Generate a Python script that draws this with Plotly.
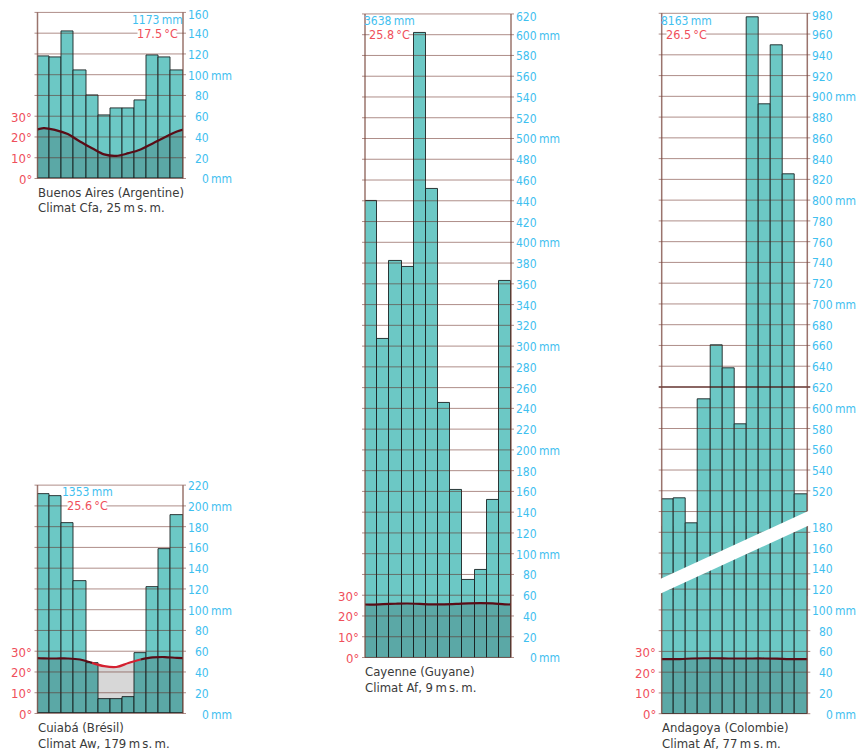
import plotly.graph_objects as go

OFF = 8                      # page body margin (px)
W, H = 860, 746              # figure reaches the right / bottom edge of the 868 x 754 page
PPM = 1.038                  # pixels per mm of precipitation (10 °C = 20 mm)

months = list(range(1, 13))

# ---------------- data ----------------
ba_precip = [118, 117, 142, 104, 80, 61, 68, 68, 75, 119, 117, 104]
ba_temp = [24.3, 23.3, 21.4, 17.8, 14.6, 11.6, 10.9, 12.2, 14.0, 16.9, 19.9, 22.6]

cu_precip = [211, 209, 183, 128, 49, 14, 14, 16, 58, 122, 158, 191]
cu_temp = [26.6, 26.5, 26.5, 26.0, 24.4, 22.8, 22.4, 24.3, 26.0, 27.0, 27.2, 26.8]

ca_precip = [440, 307, 382, 376, 602, 451, 245, 161, 75, 84, 152, 363]
ca_temp = [25.5, 25.7, 25.9, 26.0, 25.8, 25.6, 25.6, 25.8, 26.1, 26.2, 26.1, 25.6]

an_precip = [512, 513, 489, 608, 660, 638, 584, 976, 892, 949, 825, 517]
an_temp = [26.3, 26.3, 26.6, 26.7, 26.7, 26.6, 26.6, 26.6, 26.6, 26.5, 26.3, 26.3]

names = ["Buenos Aires (Argentine)", "Cuiabá (Brésil)", "Cayenne (Guyane)", "Andagoya (Colombie)"]
climates = ["Climat Cfa, 25\u2009m\u2009s.\u2009m.", "Climat Aw, 179\u2009m\u2009s.\u2009m.",
            "Climat Af, 9\u2009m\u2009s.\u2009m.", "Climat Af, 77\u2009m\u2009s.\u2009m."]
totals = ["1173", "1353", "3638", "8163"]
means = ["17.5", "25.6", "25.8", "26.5"]
temp_ticks = [0, 10, 20, 30]

# ---------------- style ----------------
FONT = "Liberation Sans Narrow, DejaVu Sans Condensed, Arial Narrow, sans-serif"
TEAL = "#6cc8c5"
OVERLAY = "rgba(0,0,0,0.155)"
LINE_DARK = "#5a0c16"
LINE_RED = "#d42030"
GRID = "rgba(95,30,20,0.5)"
GRID_STRONG = "rgba(70,15,10,0.85)"
FRAME = "rgba(120,70,60,0.75)"
CYAN = "#3fc0ef"
RED = "#ef4f5b"
TXT = "#3a3a3a"
BAR_LINE = "rgba(25,35,35,0.9)"

fig = go.Figure()
shapes, annos = [], []
layout = {}


def px2x(px):
    return (px - OFF) / W


def py2y(py):
    return 1 - (py - OFF) / H


def ref(prefix, n):
    return prefix + ("" if n == 1 else str(n))


def key(prefix, n):
    return prefix + "axis" + ("" if n == 1 else str(n))


def seg(x0, x1, py, color, width):
    shapes.append(dict(type="line", xref="paper", yref="paper", layer="above",
                       x0=px2x(x0), x1=px2x(x1), y0=py2y(py), y1=py2y(py),
                       line=dict(color=color, width=width)))


def hline(left, right, py, color=GRID, width=1, gap=None):
    if gap:
        seg(left - 3, gap[0], py, color, width)
        seg(gap[1], right + 3, py, color, width)
    else:
        seg(left - 3, right + 3, py, color, width)


def vline(px, py0, py1):
    shapes.append(dict(type="line", xref="paper", yref="paper", layer="above",
                       x0=px2x(px), x1=px2x(px), y0=py2y(py0), y1=py2y(py1),
                       line=dict(color=FRAME, width=1.5)))


def text(t, x, y, yref="paper", xanchor="left", color=TXT, size=12, yshift=0):
    annos.append(dict(text=t, x=x, y=y, xref="paper", yref=yref, xanchor=xanchor, yanchor="middle",
                      showarrow=False, font=dict(family=FONT, size=size, color=color),
                      borderpad=0, borderwidth=0, yshift=yshift))


def right_label(v, yr, right, top_label=False):
    ys = -3 if top_label else -1
    text(str(v), px2x(right + 26), v, yref=yr, xanchor="right", color=CYAN, size=12, yshift=ys)
    if v % 100 == 0:
        text("mm", px2x(right + 27.5), v, yref=yr, xanchor="left", color=CYAN, size=12, yshift=ys)


def temp_traces(temp, precip, xr, yr):
    ext_x = [0] + months + [13]
    ext_t = [temp[-1]] + temp + [temp[0]]
    fig.add_trace(go.Scatter(x=ext_x, y=ext_t, xaxis=xr, yaxis=yr, mode="lines",
                             line=dict(width=0, shape="spline"), fill="tozeroy",
                             fillcolor=OVERLAY, hoverinfo="skip", showlegend=False))
    dry = [i + 1 for i in range(12) if 2 * temp[i] > precip[i]]
    if dry:
        a, b = min(dry) - 1, max(dry) + 1
        segs = [(0, a, LINE_DARK), (a, b, LINE_RED), (b, 13, LINE_DARK)]
    else:
        segs = [(0, 13, LINE_DARK)]
    for s, e, c in segs:
        fig.add_trace(go.Scatter(x=ext_x[s:e + 1], y=ext_t[s:e + 1], xaxis=xr, yaxis=yr,
                                 mode="lines", line=dict(width=2.2, color=c, shape="spline"),
                                 hoverinfo="skip", showlegend=False))


def header(total, mean, cx, total_v, mean_v, yr):
    text(total + "\u2009mm", px2x(cx), total_v, yref=yr, xanchor="center", color=CYAN, size=12)
    text(mean + "\u2009°C", px2x(cx), mean_v, yref=yr, xanchor="center", color=RED, size=12.5)


def station_text(i, left, y0):
    text(names[i], px2x(left), py2y(y0 + 14), size=13)
    text(climates[i], px2x(left), py2y(y0 + 29.5), size=13)


HALF_GAP = 19.5   # half width of the break in the gridline behind the mean temperature

# ---------------- simple panels ----------------
simple = [
    # precip, temp, left, right, y0, top, header x, total value, mean line
    (ba_precip, ba_temp, 37.5, 183.0, 178.5, 160, 157, 152.5, 140),
    (cu_precip, cu_temp, 37.5, 183.0, 713.5, 220, 87, 213.5, 200),
    (ca_precip, ca_temp, 365.0, 511.0, 657.5, 620, 389, 613.5, 600),
]

for i, (pr, tp, left, right, y0, top, hx, tv, mv) in enumerate(simple):
    xn, ym, yt = i + 1, 2 * i + 1, 2 * i + 2
    xr, ymr, ytr = ref("x", xn), ref("y", ym), ref("y", yt)
    dom_y = [py2y(y0), py2y(y0 - top * PPM)]
    layout[key("x", xn)] = dict(domain=[px2x(left), px2x(right)], range=[0.5, 12.5], visible=False,
                               anchor=ymr)
    layout[key("y", ym)] = dict(domain=dom_y, range=[0, top], visible=False, anchor=xr)
    layout[key("y", yt)] = dict(range=[0, top / 2], visible=False, overlaying=ymr, anchor=xr)
    fig.add_trace(go.Bar(x=months, y=pr, xaxis=xr, yaxis=ymr, width=1, marker_color=TEAL,
                         marker_line=dict(color=BAR_LINE, width=1), showlegend=False))
    temp_traces(tp, pr, xr, ytr)
    for v in range(0, top + 1, 20):
        gap = (hx - HALF_GAP, hx + HALF_GAP) if v == mv else None
        hline(left, right, y0 - v * PPM, gap=gap)
        right_label(v, ymr, right, top_label=(v == top and y0 - top * PPM < 20))
    vline(left, y0, y0 - top * PPM)
    vline(right, y0, y0 - top * PPM)
    for t in temp_ticks:
        text(f"{t}°", px2x(left - 6), t, yref=ytr, xanchor="right", color=RED, size=13, yshift=-1)
    header(totals[i], means[i], hx, tv, mv, ymr)
    station_text(i, left, y0)

# ---------------- Andagoya (broken axis) ----------------
left, right = 661.7, 807.3
y0 = 713.7                 # 0 mm (lower part)
low_top_px = 526.0
up_top_px, up_top_v = 13.3, 980
up_bot_px = 596.0
low_top_v = (y0 - low_top_px) / PPM
up_bot_v = up_top_v - (up_bot_px - up_top_px) / PPM
an_hx, an_total_v, an_mean_v = 686, 973, 960


def up_py(v):
    return up_top_px + (up_top_v - v) * PPM


layout["xaxis4"] = dict(domain=[px2x(left), px2x(right)], range=[0.5, 12.5], visible=False, anchor="y7")
layout["yaxis7"] = dict(domain=[py2y(y0), py2y(low_top_px)], range=[0, low_top_v], visible=False, anchor="x4")
layout["yaxis8"] = dict(range=[0, low_top_v / 2], visible=False, overlaying="y7", anchor="x4")
layout["xaxis5"] = dict(domain=[px2x(left), px2x(right)], range=[0.5, 12.5], visible=False, anchor="y9")
layout["yaxis9"] = dict(domain=[py2y(up_bot_px), py2y(up_top_px)], range=[up_bot_v, up_top_v],
                        visible=False, anchor="x5")

fig.add_trace(go.Bar(x=months, y=an_precip, xaxis="x4", yaxis="y7", width=1, marker_color=TEAL,
                     marker_line=dict(color=BAR_LINE, width=1), showlegend=False))
temp_traces(an_temp, an_precip, "x4", "y8")
fig.add_trace(go.Bar(x=months, y=an_precip, xaxis="x5", yaxis="y9", width=1, marker_color=TEAL,
                     marker_line=dict(color=BAR_LINE, width=1), showlegend=False))

for v in range(0, 121, 20):
    hline(left, right, y0 - v * PPM)
for v in range(440, 981, 20):
    gap = (an_hx - HALF_GAP, an_hx + HALF_GAP) if v == an_mean_v else None
    hline(left, right, up_py(v), color=GRID_STRONG if v == 620 else GRID,
          width=1.6 if v == 620 else 1, gap=gap)
for v in range(0, 181, 20):
    right_label(v, "y7", right)
for v in range(520, 981, 20):
    right_label(v, "y9", right, top_label=(v == up_top_v))
vline(left, y0, up_top_px)
vline(right, y0, up_top_px)

# break band (white diagonal)
bx0, bx1 = 658.0, 811.5


def band_u(x):
    return 579.0 - 0.4595 * (x - 660.0)


thick = 14.8
path = "M {:.5f},{:.5f} L {:.5f},{:.5f} L {:.5f},{:.5f} L {:.5f},{:.5f} Z".format(
    px2x(bx0), py2y(band_u(bx0)), px2x(bx1), py2y(band_u(bx1)),
    px2x(bx1), py2y(band_u(bx1) + thick), px2x(bx0), py2y(band_u(bx0) + thick))
shapes.append(dict(type="path", path=path, xref="paper", yref="paper", layer="above",
                   fillcolor="white", line=dict(width=0)))

for t in temp_ticks:
    text(f"{t}°", px2x(left - 6), t, yref="y8", xanchor="right", color=RED, size=13, yshift=-1)
header(totals[3], means[3], an_hx, an_total_v, an_mean_v, "y9")
station_text(3, left, y0)

fig.update_layout(width=W, height=H, margin=dict(l=0, r=0, t=0, b=0),
                  paper_bgcolor="white", plot_bgcolor="rgba(0,0,0,0)",
                  barmode="overlay", bargap=0, showlegend=False,
                  shapes=shapes, annotations=annos, **layout)

fig.write_html("out.html")
